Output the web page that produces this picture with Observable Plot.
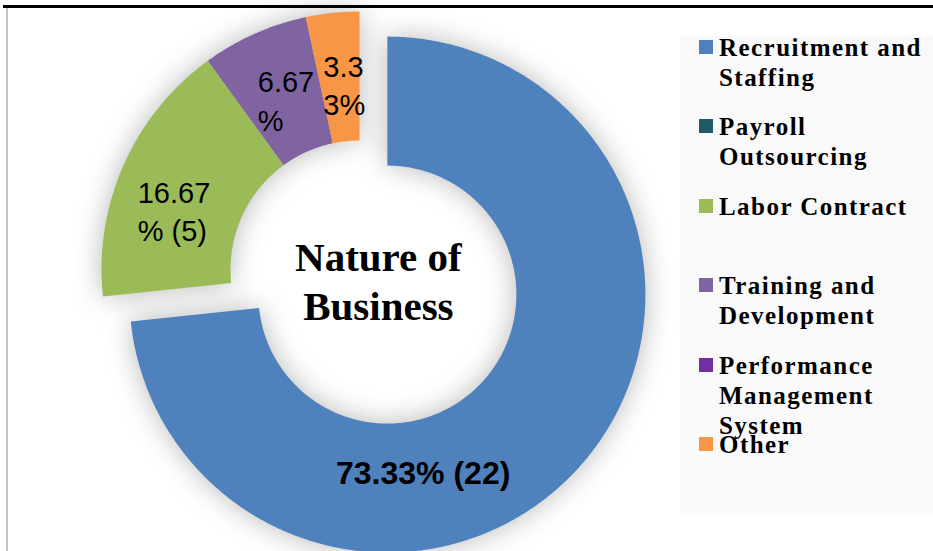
<!DOCTYPE html>
<html><head><meta charset="utf-8">
<script src="https://cdn.jsdelivr.net/npm/d3@7"></script>
<script src="https://cdn.jsdelivr.net/npm/@observablehq/plot@0.6"></script>
<style>
html,body{margin:0;padding:0;background:#fff;}
#wrap{position:relative;width:933px;height:551px;overflow:hidden;background:#fff;}
#chart{position:absolute;left:0;top:0;}
#topline{position:absolute;left:3px;top:5px;width:930px;height:3px;background:#000;}
#leftline{position:absolute;left:6px;top:8px;width:1.5px;height:543px;background:#c0c0c0;}
#legend{position:absolute;left:680px;top:36px;width:253px;height:477px;background:#f9f9f9;}
.item{position:absolute;left:0;width:253px;}
.sw{position:absolute;left:19px;width:14px;height:14px;}
.lab{position:absolute;left:39px;top:0;width:214px;font-family:"Liberation Serif","Times New Roman",serif;font-weight:bold;font-size:25px;line-height:30px;letter-spacing:1.45px;color:#000;}
</style></head><body>
<div id="wrap"><div id="chart"></div><div id="legend"></div><div id="leftline"></div><div id="topline"></div></div>
<script>
// ---- data ----
const categories = ["Recruitment and Staffing", "Payroll Outsourcing", "Labor Contract", "Training and Development", "Performance Management System", "Other"];
const counts = [22, 0, 5, 2, 0, 1];
const labels = ["73.33% (22)", "", "16.67\n% (5)", "6.67\n%", "", "3.3\n3%"];
const colors = ["#4f81bd", "#215968", "#9bbb59", "#8064a2", "#7030a0", "#f79646"];
const centerTitle = "Nature of\nBusiness";

// ---- layout ----
const W = 933, H = 551, CX = 359, CY = 269, R_OUT = 258, R_IN = 129;
const explode = [37.5, 0, 0, 0, 0, 0];
const labelShift = [[-108, 60], [0, 0], [-45, 50], [-23, 38], [0, 0], [-16, 38]];

const pie = d3.pie().sort(null).value(d => d)(counts);
const arcs = pie.map((p, i) => {
  const mid = (p.startAngle + p.endAngle) / 2;
  const cx = CX + explode[i] * Math.sin(mid), cy = CY - explode[i] * Math.cos(mid);
  const rm = (R_OUT + R_IN) / 2;
  return {cat: categories[i], a0: p.startAngle, a1: p.endAngle, mid, cx, cy,
    lx: cx + rm * Math.sin(mid), ly: cy - rm * Math.cos(mid), label: labels[i], i};
});
const pts = [];
arcs.forEach(a => {
  if (a.a1 - a.a0 <= 0) return;
  const n = Math.max(2, Math.ceil((a.a1 - a.a0) / (Math.PI / 360)));
  for (let k = 0; k <= n; k++) { const t = a.a0 + (a.a1 - a.a0) * k / n; pts.push({cat: a.cat, x: a.cx + R_OUT * Math.sin(t), y: a.cy - R_OUT * Math.cos(t)}); }
  for (let k = n; k >= 0; k--) { const t = a.a0 + (a.a1 - a.a0) * k / n; pts.push({cat: a.cat, x: a.cx + R_IN * Math.sin(t), y: a.cy - R_IN * Math.cos(t)}); }
});
const labelData = arcs.filter(a => a.label).map(a => ({text: a.label, x: a.lx + labelShift[a.i][0], y: a.ly + labelShift[a.i][1], big: a.i === 0}));
const hole = arcs[0];

const chart = Plot.plot({
  width: W, height: H, margin: 0,
  x: {domain: [0, W], range: [0, W], axis: null},
  y: {domain: [0, H], range: [0, H], axis: null},
  color: {domain: categories, range: colors},
  marks: [
    Plot.line(pts, {x: "x", y: "y", z: "cat", fill: "cat", stroke: null, curve: "linear-closed"}),
    Plot.text(labelData.filter(d => !d.big), {x: "x", y: "y", text: "text", textAnchor: "start", lineAnchor: "bottom", lineHeight: 1.32, fontSize: 29, fontFamily: "Liberation Sans, Arial, sans-serif", fill: "#000"}),
    Plot.text(labelData.filter(d => d.big), {x: "x", y: "y", text: "text", textAnchor: "middle", lineAnchor: "bottom", fontSize: 32, fontWeight: "bold", fontFamily: "Liberation Sans, Arial, sans-serif", fill: "#000"}),
    Plot.text([centerTitle], {x: hole.cx - 9, y: hole.cy + 25, text: d => d, textAnchor: "middle", lineAnchor: "bottom", lineHeight: 1.195, fontSize: 41, fontWeight: "bold", fontFamily: "Liberation Serif, Times New Roman, serif", fill: "#000"})
  ]
});
chart.querySelectorAll('g[aria-label="line"]').forEach(g => g.style.filter = "drop-shadow(0px 0px 14px rgba(0,0,0,0.28))");
document.getElementById("chart").appendChild(chart);

// legend
const leg = d3.select("#legend");
categories.forEach((c, i) => {
  const base = 20 + i * 79.5;
  const it = leg.append("div").attr("class", "item").style("top", (base - 23.4) + "px");
  it.append("div").attr("class", "sw").style("background", colors[i]).style("top", (23.4 - 16) + "px");
  it.append("div").attr("class", "lab").text(c);
});
</script>
</body></html>
